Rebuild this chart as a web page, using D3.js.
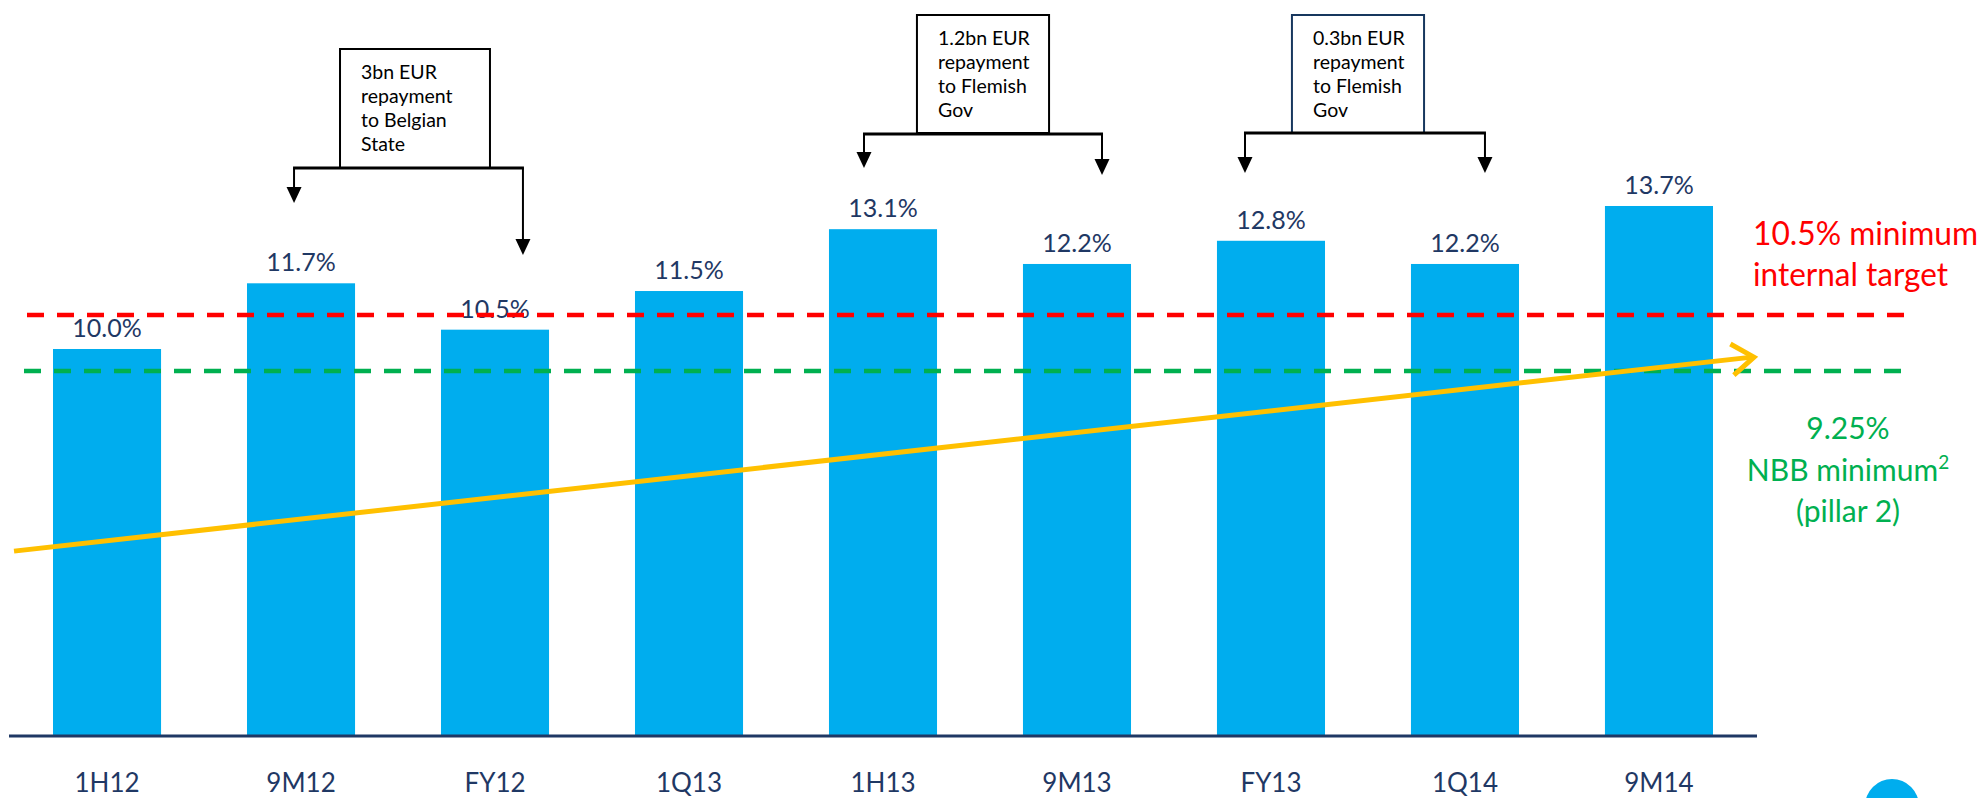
<!DOCTYPE html>
<html>
<head>
<meta charset="utf-8">
<script src="https://cdn.jsdelivr.net/npm/d3@7"></script>
<style>
  html, body { margin: 0; padding: 0; background: #ffffff; }
  svg { display: block; font-family: Lato, "Open Sans", sans-serif; }
</style>
</head>
<body>
<svg id="chart" width="1983" height="798"></svg>
<script>
// ---- data ----
const categories = ["1H12", "9M12", "FY12", "1Q13", "1H13", "9M13", "FY13", "1Q14", "9M14"];
const ratioValues = [10.0, 11.7, 10.5, 11.5, 13.1, 12.2, 12.8, 12.2, 13.7];
const valueLabels = ["10.0%", "11.7%", "10.5%", "11.5%", "13.1%", "12.2%", "12.8%", "12.2%", "13.7%"];

// reference lines: label value and the level at which the line is drawn in the picture
const refLabels = ["10.5% minimum internal target", "9.25% NBB minimum² (pillar 2)"];
const refLevels = [10.88, 9.43];

// trend arrow (start / end levels)
const trendLevels = [4.77, 9.79];

// annotation texts
const annotationTexts = [
  ["3bn EUR", "repayment", "to Belgian", "State"],
  ["1.2bn EUR", "repayment", "to Flemish", "Gov"],
  ["0.3bn EUR", "repayment", "to Flemish", "Gov"]
];

// ---- drawing ----
const svg = d3.select("#chart");
const W = 1983, H = 798;
svg.append("rect").attr("width", W).attr("height", H).attr("fill", "#ffffff");

const barColor = "#00ADEE";
const navy = "#1F3864";

const x = d3.scaleBand().domain(categories).range([53, 1713]).paddingInner(0.443).paddingOuter(0);
const y = d3.scaleLinear().domain([0, 14]).range([735.5, 194.4]);
// continuous category-index scale for annotation placement
const xi = d3.scaleLinear().domain([0, categories.length - 1])
  .range([x(categories[0]) + x.bandwidth() / 2, x(categories[categories.length - 1]) + x.bandwidth() / 2]);

const data = categories.map((c, i) => ({ cat: c, v: ratioValues[i], label: valueLabels[i] }));

// bars
svg.append("g").selectAll("rect").data(data).join("rect")
  .attr("x", d => x(d.cat))
  .attr("y", d => y(d.v))
  .attr("width", x.bandwidth())
  .attr("height", d => y(0) - y(d.v))
  .attr("fill", barColor);

// value labels
svg.append("g").selectAll("text").data(data).join("text")
  .attr("x", d => x(d.cat) + x.bandwidth() / 2)
  .attr("y", d => y(d.v) - 12)
  .attr("text-anchor", "middle")
  .attr("font-size", 25)
  .attr("fill", navy)
  .text(d => d.label);

// reference lines
const refColors = ["#FF0000", "#00B050"];
const refX = [[27, 1909], [24, 1907]];
refLevels.forEach((lv, i) => {
  svg.append("line")
    .attr("x1", refX[i][0]).attr("x2", refX[i][1])
    .attr("y1", y(lv)).attr("y2", y(lv))
    .attr("stroke", refColors[i])
    .attr("stroke-width", 4.5)
    .attr("stroke-dasharray", "17,13");
});

// trend arrow
const tx0 = xi(0) - 93, tx1 = xi(categories.length - 1) + 95;
const ty0 = y(trendLevels[0]), ty1 = y(trendLevels[1]);
svg.append("line")
  .attr("x1", tx0).attr("y1", ty0).attr("x2", tx1 - 2).attr("y2", ty1)
  .attr("stroke", "#FFC000").attr("stroke-width", 5);
const ang = Math.atan2(ty1 - ty0, tx1 - tx0);
const armLen = 27, armAng = 0.62;
const arm = (s) => [tx1 - armLen * Math.cos(ang + s * armAng), ty1 - armLen * Math.sin(ang + s * armAng)];
const a1 = arm(1), a2 = arm(-1);
svg.append("path")
  .attr("d", `M${a1[0]},${a1[1]}L${tx1},${ty1}L${a2[0]},${a2[1]}`)
  .attr("fill", "none").attr("stroke", "#FFC000").attr("stroke-width", 5)
  .attr("stroke-linejoin", "miter");

// axis
const axisY = y(0) + 0.5;
svg.append("line")
  .attr("x1", 9).attr("x2", 1757).attr("y1", axisY).attr("y2", axisY)
  .attr("stroke", navy).attr("stroke-width", 3);
const axisG = svg.append("g").attr("transform", `translate(0,${axisY})`)
  .call(d3.axisBottom(x).tickSize(0));
axisG.select(".domain").remove();
axisG.selectAll("text")
  .attr("y", 56).attr("dy", 0)
  .attr("font-family", "Lato, 'Open Sans', sans-serif")
  .attr("font-size", 26)
  .attr("fill", navy);

// reference line labels
const redT = svg.append("text").attr("font-size", 32).attr("fill", "#FF0000");
redT.append("tspan").attr("x", 1753).attr("y", 245)
  .attr("textLength", 225).attr("lengthAdjust", "spacingAndGlyphs").text("10.5% minimum");
redT.append("tspan").attr("x", 1753).attr("y", 286)
  .attr("textLength", 195).attr("lengthAdjust", "spacingAndGlyphs").text("internal target");

const greenT = svg.append("text").attr("text-anchor", "middle").attr("font-size", 30).attr("fill", "#00B050");
greenT.append("tspan").attr("x", 1848).attr("y", 439).text("9.25%");
greenT.append("tspan").attr("x", 1848).attr("y", 481).text("NBB minimum");
greenT.append("tspan").attr("dy", -12).attr("font-size", 19).text("2");
greenT.append("tspan").attr("x", 1848).attr("y", 522).text("(pillar 2)");

// annotations (boxes with bracket arrows)
const annLayout = [
  { box: [1.201, 1.974], boxTop: 49, boxBot: 168, barY: 168, arrows: [[0.964, 203], [2.144, 255]], textX: 361, firstBase: 79, border: "#000000" },
  { box: [4.175, 4.856], boxTop: 15, boxBot: 133, barY: 134, arrows: [[3.902, 168], [5.129, 175]], textX: 938, firstBase: 45, border: "#000000" },
  { box: [6.108, 6.789], boxTop: 15, boxBot: 133, barY: 133, arrows: [[5.866, 173], [7.103, 173]], textX: 1313, firstBase: 45, border: "#17375E" }
];
annLayout.forEach((a, i) => {
  const g = svg.append("g");
  const bx0 = xi(a.box[0]), bx1 = xi(a.box[1]);
  g.append("rect")
    .attr("x", bx0).attr("y", a.boxTop)
    .attr("width", bx1 - bx0).attr("height", a.boxBot - a.boxTop)
    .attr("fill", "#ffffff").attr("stroke", a.border).attr("stroke-width", 2);
  const ax0 = xi(a.arrows[0][0]), ax1 = xi(a.arrows[1][0]);
  g.append("line").attr("x1", ax0 - 1).attr("x2", ax1 + 1).attr("y1", a.barY).attr("y2", a.barY)
    .attr("stroke", "#000").attr("stroke-width", 3);
  a.arrows.forEach(([ix, tipY]) => {
    const ax = xi(ix);
    g.append("line").attr("x1", ax).attr("x2", ax).attr("y1", a.barY).attr("y2", tipY - 14)
      .attr("stroke", "#000").attr("stroke-width", 2);
    g.append("path")
      .attr("d", `M${ax - 7.5},${tipY - 16}L${ax + 7.5},${tipY - 16}L${ax},${tipY}Z`)
      .attr("fill", "#000");
  });
  const t = g.append("text").attr("font-size", 19.5).attr("fill", "#000");
  annotationTexts[i].forEach((line, k) => {
    t.append("tspan").attr("x", a.textX).attr("y", a.firstBase + k * 24).text(line);
  });
});

// decorative page marker circle at bottom right
svg.append("circle").attr("cx", 1892).attr("cy", 806).attr("r", 27).attr("fill", barColor);
</script>
</body>
</html>
